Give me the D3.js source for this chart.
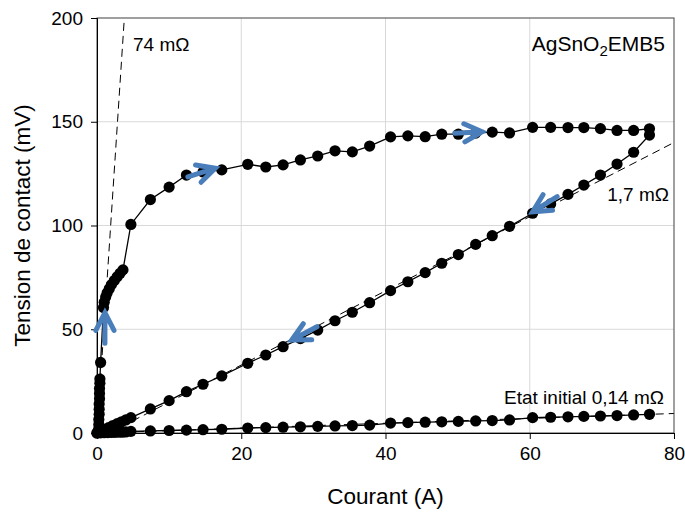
<!DOCTYPE html>
<html><head><meta charset="utf-8">
<script src="https://cdn.jsdelivr.net/npm/d3@7"></script>
<style>body{margin:0;background:#fff}svg{display:block}text{font-family:"Liberation Sans",Arial,sans-serif}</style>
</head><body><svg id="c" width="685" height="514"></svg>
<script>
// ---- data ----
const xTicks = [0, 20, 40, 60, 80];
const yTicks = [0, 50, 100, 150, 200];
const gridI = [4.7, 7.4, 10.0, 12.4, 14.7, 17.3, 20.9, 23.4, 25.8, 28.2, 30.6, 33.0, 35.4, 37.8, 40.7, 43.1, 45.5, 47.8, 50.1, 52.5, 54.8, 57.2, 60.4, 62.9, 65.3, 67.5, 69.8, 72.1, 74.4, 76.6];
// initial state
const initI = [0, 0.5, 1, 1.5, 2, 2.5, 3, 3.5, 4].concat(gridI);
const initV = [0, 0.1, 0.15, 0.2, 0.25, 0.3, 0.35, 0.4, 0.5,
  0.8, 1.0, 1.2, 1.4, 1.6, 1.8, 2.4, 2.6, 2.8, 3.0, 3.2, 3.4, 3.6, 3.8, 4.8, 5.0, 5.2, 5.4, 5.6, 5.8, 6.0, 6.3, 7.4, 7.6, 7.8, 8.0, 8.2, 8.4, 8.7, 9.0];
// loop: rise
const riseI = [0, 0.2, 0.25, 0.25, 0.3, 0.3, 0.3, 0.35, 0.35, 0.35, 0.4, 0.4, 0.5, 0.9, 1.0, 1.2, 1.4, 1.7, 2.0, 2.4, 2.8, 3.2, 3.6];
const riseV = [0, 1.5, 4, 6.5, 9, 11.5, 14, 16.5, 19, 21.5, 24, 26, 34, 60.5, 63, 65.5, 67.5, 69.5, 71.5, 73.5, 75.3, 77, 78.6];
// loop: upper branch (increasing current)
const upV = [100.5, 112.5, 118.5, 124.3, 125.8, 126.8, 129.5, 128.2, 129.2, 131.6, 133.5, 136, 135.5, 138.3, 142.7, 143.2, 142.8, 144, 144, 144.5, 145, 144.6, 147.3, 147.3, 147.2, 147.2, 146.7, 145.8, 145.8, 146.6];
// loop: return branch (decreasing current)
const downI = gridI.slice().reverse().concat([4.0, 3.4, 2.8, 2.2, 1.6, 1.0, 0.5, 0.1]);
const downV = [143.6, 135.3, 129.6, 124.3, 119.5, 115.0, 110.4, 105.9, 99.6, 95.1, 90.9, 86, 81.8, 77.3, 72.9, 68.6, 62.8, 58.2, 54.1, 49.6, 45.5, 41.6, 37.6, 33.6, 27.5, 23.5, 19.9, 15.6, 11.6, 7.4,
  6.3, 5.4, 4.5, 3.6, 2.6, 1.7, 0.9, 0.2];
// fitted resistance lines (dashed)
const fitLabels = ["74 mΩ", "1,7 mΩ", "Etat initial 0,14 mΩ"];
const fitI0 = [0, 1.68, 0], fitV0 = [0, 0, 0];
const fitI1 = [3.79, 80, 80], fitV1 = [200, 140, 9.4];
// direction arrows (tail -> tip)
const arrTailI = [1.1, 12.6, 49.6, 63.8, 30.5];
const arrTailV = [43.3, 123.4, 144.4, 113.9, 51.2];
const arrTipI = [1.1, 16.4, 53.4, 60.4, 27.0];
const arrTipV = [58.0, 127.6, 145.2, 106.6, 44.8];

// ---- chart ----
const W = 685, H = 514, m = {l: 97, r: 11, t: 18, b: 81};
const svg = d3.select("#c");
svg.append("rect").attr("width", W).attr("height", H).attr("fill", "#fff");
const x = d3.scaleLinear().domain([0, 80]).range([m.l, W - m.r]);
const y = d3.scaleLinear().domain([0, 200]).range([H - m.b, m.t]);

// grid
const g = svg.append("g");
g.selectAll(".gx").data(xTicks.slice(1, -1)).join("line")
  .attr("x1", d => x(d)).attr("x2", d => x(d)).attr("y1", y(0)).attr("y2", y(200))
  .attr("stroke", "#d9d9d9").attr("stroke-width", 1);
g.selectAll(".gy").data(yTicks.slice(1, -1)).join("line")
  .attr("x1", x(0)).attr("x2", x(80)).attr("y1", d => y(d)).attr("y2", d => y(d))
  .attr("stroke", "#d9d9d9").attr("stroke-width", 1);
// frame
svg.append("rect").attr("x", x(0)).attr("y", y(200)).attr("width", x(80) - x(0)).attr("height", y(0) - y(200))
  .attr("fill", "none").attr("stroke", "#404040").attr("stroke-width", 1);

// axes
const ax = svg.append("g").attr("transform", `translate(0,${y(0)})`)
  .call(d3.axisBottom(x).tickValues(xTicks).tickSize(6).tickPadding(8));
const ay = svg.append("g").attr("transform", `translate(${x(0)},0)`)
  .call(d3.axisLeft(y).tickValues(yTicks).tickSize(6).tickPadding(8));
[ax, ay].forEach(a => {
  a.selectAll("path,line").attr("stroke", "#000");
  a.selectAll("text").attr("font-size", 19).attr("fill", "#000").attr("font-family", "Liberation Sans, Arial, sans-serif");
});

// dashed fit lines
g.selectAll(".fit").data(fitI0).join("line")
  .attr("x1", (d, i) => x(fitI0[i])).attr("y1", (d, i) => y(fitV0[i]))
  .attr("x2", (d, i) => x(fitI1[i])).attr("y2", (d, i) => y(fitV1[i]))
  .attr("stroke", "#000").attr("stroke-width", 1).attr("stroke-dasharray", "8,5");

// series
const line = d3.line().x(d => x(d[0])).y(d => y(d[1]));
const initPts = initI.map((d, i) => [d, initV[i]]);
const loopPts = riseI.map((d, i) => [d, riseV[i]])
  .concat(gridI.map((d, i) => [d, upV[i]]))
  .concat(downI.map((d, i) => [d, downV[i]]));
[initPts, loopPts].forEach(pts => {
  svg.append("path").datum(pts).attr("d", line).attr("fill", "none").attr("stroke", "#000").attr("stroke-width", 1.3);
  svg.append("g").selectAll("circle").data(pts).join("circle")
    .attr("cx", d => x(d[0])).attr("cy", d => y(d[1])).attr("r", 5.6).attr("fill", "#000");
});

// arrows
const arr = svg.append("g");
arrTipI.forEach((ti, i) => {
  const x0 = x(arrTailI[i]), y0 = y(arrTailV[i]), x1 = x(ti), y1 = y(arrTipV[i]);
  const a = Math.atan2(y0 - y1, x0 - x1), L = 20, h = 27 * Math.PI / 180;
  const w1 = [x1 + L * Math.cos(a + h), y1 + L * Math.sin(a + h)];
  const w2 = [x1 + L * Math.cos(a - h), y1 + L * Math.sin(a - h)];
  arr.append("path")
    .attr("d", `M${x0},${y0}L${x1},${y1}M${w1[0]},${w1[1]}L${x1},${y1}L${w2[0]},${w2[1]}`)
    .attr("fill", "none").attr("stroke", "#4a7ebb").attr("stroke-width", 5)
    .attr("stroke-linecap", "round").attr("stroke-linejoin", "miter");
});

// annotations
const ann = svg.append("g").attr("font-size", 19).attr("fill", "#000");
ann.append("text").attr("x", 133).attr("y", 51).text(fitLabels[0]);
ann.append("text").attr("x", 669).attr("y", 201).attr("text-anchor", "end").text(fitLabels[1]);
ann.append("text").attr("x", 664).attr("y", 404).attr("text-anchor", "end").text(fitLabels[2]);
const t = ann.append("text").attr("x", 665).attr("y", 51).attr("text-anchor", "end").attr("font-size", 21);
t.append("tspan").text("AgSnO");
t.append("tspan").attr("font-size", 15).attr("dy", 5).text("2");
t.append("tspan").attr("dy", -5).text("EMB5");

// axis titles
svg.append("text").attr("x", (x(0) + x(80)) / 2).attr("y", 504).attr("text-anchor", "middle")
  .attr("font-size", 22.5).text("Courant (A)");
svg.append("text").attr("transform", `translate(30,${(y(0) + y(200)) / 2}) rotate(-90)`)
  .attr("text-anchor", "middle").attr("font-size", 22.5).text("Tension de contact (mV)");
</script></body></html>
